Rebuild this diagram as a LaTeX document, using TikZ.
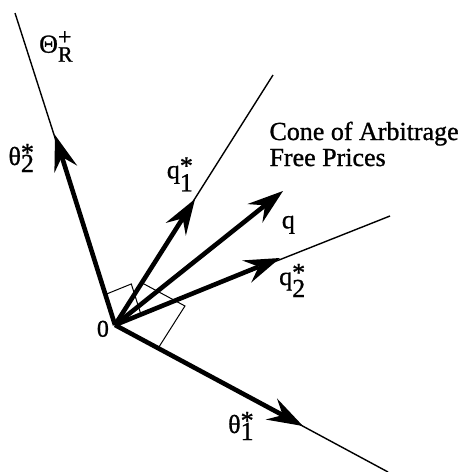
\documentclass[tikz,border=0pt]{standalone}
\usepackage{fontspec}
\setmainfont{Liberation Serif}[AutoFakeBold=1.0]
\usetikzlibrary{arrows.meta,calc}
\newcommand{\vlab}[5]{#1\makebox[0pt][l]{\raisebox{-#4}{#2}}\raisebox{#5}{#3}}
\begin{document}
\begin{tikzpicture}[x=1pt,y=-1pt,
  thinline/.style={line width=1.4pt},
  vec/.style={line width=4.6pt,-{Stealth[length=36pt,width=24pt,inset=13pt,line width=0pt]}},
  rmark/.style={line width=1pt},
  lbl/.style={anchor=base west,inner sep=0pt,font=\fontsize{26}{26}\selectfont\bfseries}]
\useasboundingbox (0,0) rectangle (461,472);
\coordinate (O) at (115,325);
\coordinate (thetaR) at (15,13);
\coordinate (t2) at (55,135);
\coordinate (t1end) at (388,472);
\coordinate (t1) at (303,426);
\coordinate (q1end) at (273,75);
\coordinate (q1) at (195,199);
\coordinate (q) at (283,191);
\coordinate (q2end) at (390,216);
\coordinate (q2) at (280,258);
% thin lines
\draw[thinline] (O) -- (thetaR);
\draw[thinline] (O) -- (t1end);
\draw[thinline] (O) -- (q1end);
\draw[thinline] (O) -- (q2end);
% right-angle marks
\coordinate (mA1) at ($(O)!32pt!(t2)$);
\coordinate (mA3) at ($(O)!28pt!(q2)$);
\coordinate (mAc) at ($(mA1)+(mA3)-(O)$);
\draw[rmark] (mA1) -- (mAc) -- (mA3);
\coordinate (mB1) at ($(O)!50pt!(q1)$);
\coordinate (mB3) at ($(O)!49pt!(t1)$);
\coordinate (mBc) at ($(mB1)+(mB3)-(O)$);
\draw[rmark] (mB1) -- (mBc) -- (mB3);
% vectors
\draw[vec] (O) -- (t2);
\draw[vec] (O) -- (t1);
\draw[vec] (O) -- (q1);
\draw[vec] (O) -- (q);
\draw[vec] (O) -- (q2);
% labels
\node[lbl] (lTheta) at (39,52.7) {\vlab{Θ}{\fontsize{22}{22}\selectfont R}{\fontsize{24}{24}\selectfont +}{9pt}{8pt}};
\node[lbl] (lt2) at (8.3,165) {\vlab{θ}{2}{*}{7pt}{4pt}};
\node[lbl] (lq1) at (166.7,178.3) {\vlab{q}{1}{*}{13pt}{4pt}};
\node[lbl] (lq) at (281.7,228.3) {q};
\node[lbl] (lq2) at (279,285) {\vlab{q}{2}{*}{12pt}{4pt}};
\node[lbl] (lt1) at (228,433) {\vlab{θ}{1}{*}{7pt}{4pt}};
\node[lbl,font=\fontsize{24}{24}\selectfont\bfseries] (lO) at (96.7,336.7) {0};
\node[lbl] (cone1) at (269.3,140) {Cone of Arbitrage};
\node[lbl] (cone2) at (269.3,166) {Free Prices};
\end{tikzpicture}
\end{document}
